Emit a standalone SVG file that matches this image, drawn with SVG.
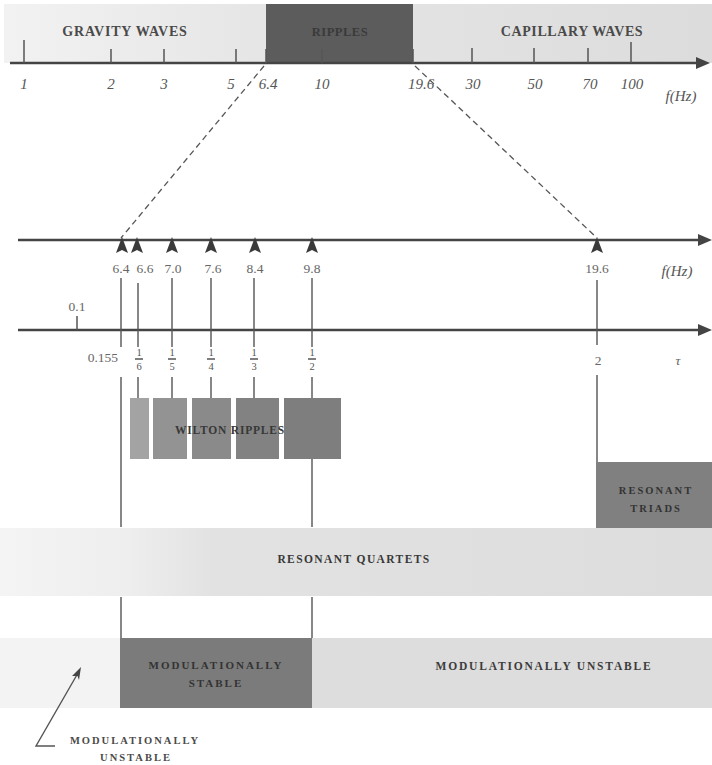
<svg xmlns="http://www.w3.org/2000/svg" xmlns:xlink="http://www.w3.org/1999/xlink" width="712" height="765" viewBox="0 0 712 765">
<style>
.lbl{font-family:"Liberation Serif",serif;font-weight:bold;text-anchor:middle;}
.ax{stroke:#444;stroke-width:2.5;fill:none;}
.vl{stroke:#555;stroke-width:1.4;fill:none;}
.tk{stroke:#555;stroke-width:1.5;fill:none;}
.num{font-family:"Liberation Serif",serif;font-style:italic;font-size:15px;fill:#555;}
.val{font-family:"Liberation Serif",serif;font-size:13.5px;fill:#666;}
.frac{font-family:"Liberation Serif",serif;font-size:10.5px;fill:#555;text-anchor:middle;}
.dash{stroke:#555;stroke-width:1.3;stroke-dasharray:6 4;fill:none;}
</style>
<defs>
<marker id="ah" markerWidth="14" markerHeight="12" refX="2" refY="6" orient="auto" markerUnits="userSpaceOnUse">
<path d="M0,0 L14,6 L0,12 Z" fill="#444"/>
</marker>
<path id="up" d="M0,237 L6,253 L0,250 L-6,253 Z" fill="#3a3a3a"/>
<linearGradient id="topband" x1="0" y1="0" x2="1" y2="0">
<stop offset="0" stop-color="#f2f2f2"/>
<stop offset="0.35" stop-color="#e6e6e6"/>
<stop offset="1" stop-color="#dcdcdc"/>
</linearGradient>
<linearGradient id="quart" x1="0" y1="0" x2="1" y2="0">
<stop offset="0" stop-color="#f4f4f4"/>
<stop offset="0.18" stop-color="#eeeeee"/>
<stop offset="0.3" stop-color="#e2e2e2"/>
<stop offset="1" stop-color="#dddddd"/>
</linearGradient>
</defs>
<rect width="712" height="765" fill="#ffffff"/>

<g id="top-band">
<rect x="4" y="4" width="708" height="59" fill="url(#topband)"/>
</g>
<g id="ripples">
<rect x="266" y="4" width="147" height="59" fill="#5c5c5c"/>
<text class="lbl" x="340" y="36" font-size="12.5" fill="#3a3a3a" letter-spacing="0.5">RIPPLES</text>
</g>
<g id="gravity-waves">
<text class="lbl" x="125" y="36" font-size="14" fill="#4a4a4a" letter-spacing="0.8">GRAVITY WAVES</text>
</g>
<g id="capillary-waves">
<text class="lbl" x="572" y="36" font-size="14" fill="#4a4a4a" letter-spacing="0.6">CAPILLARY WAVES</text>
</g>

<g id="axis-f-top">
<line class="ax" x1="10" y1="63" x2="698" y2="63" marker-end="url(#ah)"/>
<path class="tk" d="M24,40V63 M111,49V63 M164,49V63 M236,49V63 M266,49V63 M322,49V63 M413,49V63 M472,48V63 M534,48V63 M588,48V63 M631,42V63"/>
<g text-anchor="middle">
<text class="num" x="24" y="89">1</text>
<text class="num" x="111" y="89">2</text>
<text class="num" x="164" y="89">3</text>
<text class="num" x="231" y="89">5</text>
<text class="num" x="268" y="89">6.4</text>
<text class="num" x="322" y="89">10</text>
<text class="num" x="421" y="89">19.6</text>
<text class="num" x="473" y="89">30</text>
<text class="num" x="535" y="89">50</text>
<text class="num" x="590" y="89">70</text>
<text class="num" x="632" y="89">100</text>
<text class="num" x="681" y="101" font-size="14">f(Hz)</text>
</g>
</g>

<g id="axis-f">
<line class="ax" x1="18" y1="240" x2="700" y2="240" marker-end="url(#ah)"/>
<use xlink:href="#up" x="122"/>
<use xlink:href="#up" x="137"/>
<use xlink:href="#up" x="172"/>
<use xlink:href="#up" x="211"/>
<use xlink:href="#up" x="255"/>
<use xlink:href="#up" x="312"/>
<use xlink:href="#up" x="597"/>
<g text-anchor="middle">
<text class="val" x="121" y="273">6.4</text>
<text class="val" x="145" y="273">6.6</text>
<text class="val" x="173" y="273">7.0</text>
<text class="val" x="213" y="273">7.6</text>
<text class="val" x="255" y="273">8.4</text>
<text class="val" x="312" y="273">9.8</text>
<text class="val" x="597" y="273">19.6</text>
<text class="num" x="677" y="276" font-size="13">f(Hz)</text>
</g>
</g>

<g id="axis-tau">
<line class="ax" x1="18" y1="330" x2="700" y2="330" marker-end="url(#ah)"/>
<path class="tk" d="M77,316V330"/>
<text class="val" x="77" y="311" text-anchor="middle">0.1</text>
<text class="val" x="118" y="362" text-anchor="end">0.155</text>
<g class="frac">
<text x="139" y="356">1</text><text x="139" y="370">6</text>
<text x="172" y="356">1</text><text x="172" y="370">5</text>
<text x="211" y="356">1</text><text x="211" y="370">4</text>
<text x="254" y="356">1</text><text x="254" y="370">3</text>
<text x="312" y="356">1</text><text x="312" y="370">2</text>
</g>
<path class="tk" stroke-width="0.8" d="M135,359H143 M168,359H176 M207,359H215 M250,359H258 M308,359H316"/>
<text class="val" x="598" y="365" text-anchor="middle">2</text>
<text class="val" x="678" y="365" text-anchor="middle" font-style="italic">τ</text>
</g>

<g id="wilton-ripples">
<rect x="130" y="398" width="19" height="61" fill="#a3a3a3"/>
<rect x="153" y="398" width="34" height="61" fill="#939393"/>
<rect x="192" y="398" width="39" height="61" fill="#8a8a8a"/>
<rect x="236" y="398" width="43" height="61" fill="#828282"/>
<rect x="284" y="398" width="57" height="61" fill="#7e7e7e"/>
<text class="lbl" x="230" y="434" font-size="11.5" fill="#383838" letter-spacing="0.8">WILTON RIPPLES</text>
</g>

<g id="resonant-triads">
<rect x="596" y="462" width="116" height="66" fill="#808080"/>
<text class="lbl" x="656" y="494" font-size="10.5" fill="#333" letter-spacing="2">RESONANT</text>
<text class="lbl" x="656" y="512" font-size="10.5" fill="#333" letter-spacing="2">TRIADS</text>
</g>

<g id="resonant-quartets">
<rect x="0" y="528" width="712" height="68" fill="url(#quart)"/>
<text class="lbl" x="354" y="563" font-size="11.5" fill="#383838" letter-spacing="1.4">RESONANT QUARTETS</text>
</g>

<g id="modulationally-unstable-left">
<rect x="0" y="638" width="120" height="70" fill="#f3f3f3"/>
</g>
<g id="modulationally-stable">
<rect x="120" y="638" width="192" height="70" fill="#7b7b7b"/>
<text class="lbl" x="216" y="669" font-size="11" fill="#333" letter-spacing="2">MODULATIONALLY</text>
<text class="lbl" x="216" y="687" font-size="11" fill="#333" letter-spacing="2">STABLE</text>
</g>
<g id="modulationally-unstable">
<rect x="312" y="638" width="400" height="70" fill="#dddddd"/>
<text class="lbl" x="544" y="670" font-size="11.5" fill="#3c3c3c" letter-spacing="1.8">MODULATIONALLY UNSTABLE</text>
</g>
<g id="modulationally-unstable-note">
<text class="lbl" x="135" y="744" font-size="10.5" fill="#4a4a4a" letter-spacing="2">MODULATIONALLY</text>
<text class="lbl" x="136" y="761" font-size="10.5" fill="#4a4a4a" letter-spacing="2">UNSTABLE</text>
</g>

<g id="connectors">
<line class="dash" x1="264" y1="66" x2="121" y2="238"/>
<line class="dash" x1="415" y1="66" x2="597" y2="238"/>
<path class="vl" d="M121,278V347 M121,377V527 M121,597V638"/>
<path class="vl" d="M138,283V347 M138,377V398"/>
<path class="vl" d="M172,278V347 M172,377V398"/>
<path class="vl" d="M211,278V347 M211,377V398"/>
<path class="vl" d="M254,278V347 M254,377V398"/>
<path class="vl" d="M312,278V347 M312,377V398 M312,459V527 M312,597V638"/>
<path class="vl" d="M597,280V345 M597,375V462"/>
<path class="vl" d="M55,746H36L78,673"/>
<path d="M81,667 L79,680 L77.5,676 L72,676 Z" fill="#444"/>
</g>
</svg>
